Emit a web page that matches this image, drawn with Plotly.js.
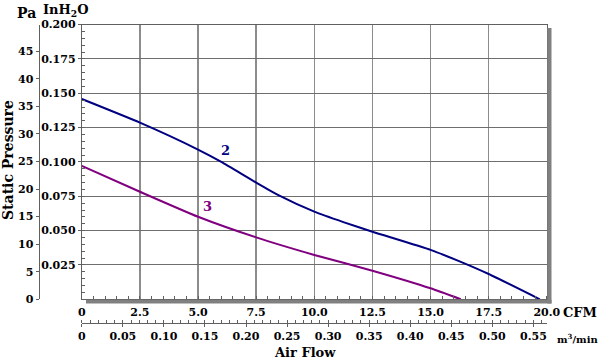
<!DOCTYPE html>
<html><head><meta charset="utf-8">
<script src="https://cdn.plot.ly/plotly-3.0.1.min.js"></script>
<style>body{margin:0;background:#fff}#c{width:600px;height:362px}</style>
</head><body><div id="c"></div>
<script>
// ---- data ----
const cfm2 = [0, 2.5, 5, 6, 7.5, 8.5, 10, 11.25, 12.5, 15, 16.25, 17.5, 19.7];
const inh2o2 = [0.1458, 0.1286, 0.1090, 0.1000, 0.0850, 0.0755, 0.0638, 0.0562, 0.0492, 0.0360, 0.0276, 0.0184, 0];
const cfm3 = [0, 2.5, 5, 7.5, 10, 12.5, 15, 16.3];
const inh2o3 = [0.0971, 0.0783, 0.0601, 0.0451, 0.0323, 0.0208, 0.0080, 0];
const seriesNames = ["2", "3"];
const cfmTicks = [0, 2.5, 5, 7.5, 10, 12.5, 15, 17.5, 20];
const cfmTickText = ["0", "2.5", "5.0", "7.5", "10.0", "12.5", "15.0", "17.5", "20.0"];
const inTicks = [0.025, 0.05, 0.075, 0.1, 0.125, 0.15, 0.175, 0.2];
const inTickText = ["0.025", "0.050", "0.075", "0.100", "0.125", "0.150", "0.175", "0.200"];
const paTicks = [0, 5, 10, 15, 20, 25, 30, 35, 40, 45];
const m3Ticks = [0, 0.05, 0.10, 0.15, 0.20, 0.25, 0.30, 0.35, 0.40, 0.45, 0.50, 0.55];
const m3TickText = ["0", "0.05", "0.10", "0.15", "0.20", "0.25", "0.30", "0.35", "0.40", "0.45", "0.50", "0.55"];
const CFM_MAX = 20, IN_MAX = 0.2;
const PA_PER_IN = 249.089, M3_PER_CFM = 0.0283168;

// ---- layout helpers (pixel -> paper) ----
const W = 600, H = 362;
const px = v => v / W, py = v => (H - v) / H;
const L = 81.8, R = 546.8, T = 24.6, B = 299.3;
const font = (s, c) => ({family: "DejaVu Serif", size: s, weight: "bold", color: c || "#000"});
const label = (text, x, y, f, extra) => Object.assign({text, x: px(x), y: py(y), xref: "paper", yref: "paper",
  xanchor: "center", yanchor: "middle", showarrow: false, font: f}, extra || {});

const traces = [
  {x: cfm2, y: inh2o2, name: seriesNames[0], mode: "lines", line: {color: "#000080", width: 2, shape: "spline", smoothing: 0.5}, xaxis: "x", yaxis: "y"},
  {x: cfm3, y: inh2o3, name: seriesNames[1], mode: "lines", line: {color: "#800080", width: 2, shape: "spline", smoothing: 0.5}, xaxis: "x", yaxis: "y"},
  // same curve in secondary units, invisible: makes Plotly draw the Pa and m3/min axes
  {x: cfm2.map(c => c * M3_PER_CFM), y: inh2o2.map(p => p * PA_PER_IN), mode: "lines", line: {width: 0, color: "rgba(0,0,0,0)"}, opacity: 0, hoverinfo: "skip", xaxis: "x2", yaxis: "y2"}
];

const layout = {
  width: W, height: H, margin: {l: 0, r: 0, t: 0, b: 0},
  paper_bgcolor: "#fff", plot_bgcolor: "#fff", showlegend: false,
  xaxis: {domain: [px(L), px(R)], range: [0, CFM_MAX], tickvals: cfmTicks, ticktext: cfmTickText,
    showgrid: true, gridcolor: "#8c8c8c", gridwidth: 1.5, zeroline: false,
    showline: true, linecolor: "#606060", linewidth: 1, mirror: true,
    ticks: "outside", ticklen: 2, tickcolor: "rgba(0,0,0,0)", tickfont: font(11),
    minor: {ticks: "inside", dtick: 0.5, tick0: 0, ticklen: 3, tickcolor: "#606060", showgrid: false},
    fixedrange: true},
  xaxis2: {domain: [px(L), px(R)], range: [0, CFM_MAX * M3_PER_CFM], overlaying: "x", anchor: "free",
    position: py(322.5), side: "bottom", tickvals: m3Ticks, ticktext: m3TickText,
    showgrid: false, zeroline: false, showline: true, linecolor: "#606060", linewidth: 1,
    ticks: "outside", ticklen: 3, tickcolor: "#606060", tickfont: font(11),
    minor: {ticks: "inside", dtick: 0.01, tick0: 0, ticklen: 3, tickcolor: "#606060"},
    fixedrange: true},
  yaxis: {domain: [py(B), py(T)], range: [0, IN_MAX], tickvals: inTicks, ticktext: inTickText,
    showgrid: true, gridcolor: "#6e6e6e", gridwidth: 1, zeroline: false,
    showline: true, linecolor: "#606060", linewidth: 1, mirror: true,
    ticks: "outside", ticklen: 3, tickcolor: "#606060", tickfont: font(11),
    minor: {ticks: "inside", dtick: 0.005, tick0: 0, ticklen: 3, tickcolor: "#606060", showgrid: false},
    fixedrange: true},
  yaxis2: {domain: [py(B), py(T)], range: [0, IN_MAX * PA_PER_IN], overlaying: "y", anchor: "free",
    position: px(38.5), side: "left", tickvals: paTicks, showgrid: false, zeroline: false,
    showline: true, linecolor: "#606060", linewidth: 1,
    ticks: "outside", ticklen: 3, tickcolor: "#606060", tickfont: font(11), fixedrange: true},
  shapes: [
    {type: "rect", xref: "paper", yref: "paper", x0: px(547.3), x1: px(551.5), y0: py(303.5), y1: py(28), fillcolor: "#808080", line: {width: 0}},
    {type: "rect", xref: "paper", yref: "paper", x0: px(86), x1: px(551.5), y0: py(303.5), y1: py(299.8), fillcolor: "#808080", line: {width: 0}}
  ],
  annotations: [
    {text: seriesNames[0], x: 6.16, y: 0.108, xref: "x", yref: "y", xanchor: "center", yanchor: "middle", showarrow: false, font: font(13, "#000080")},
    {text: seriesNames[1], x: 5.40, y: 0.0674, xref: "x", yref: "y", xanchor: "center", yanchor: "middle", showarrow: false, font: font(13, "#800080")},
    label("Pa", 26, 13, font(14)),
    label("InH<sub>2</sub>O", 65, 11, font(13)),
    label("CFM", 580, 312, font(13)),
    label("m<sup>3</sup>/min", 578, 338, font(10)),
    label("Air Flow", 305, 352, font(13)),
    label("Static Pressure", 8, 160, font(14), {textangle: -90})
  ]
};

Plotly.newPlot("c", traces, layout, {staticPlot: true, displayModeBar: false});
</script></body></html>
